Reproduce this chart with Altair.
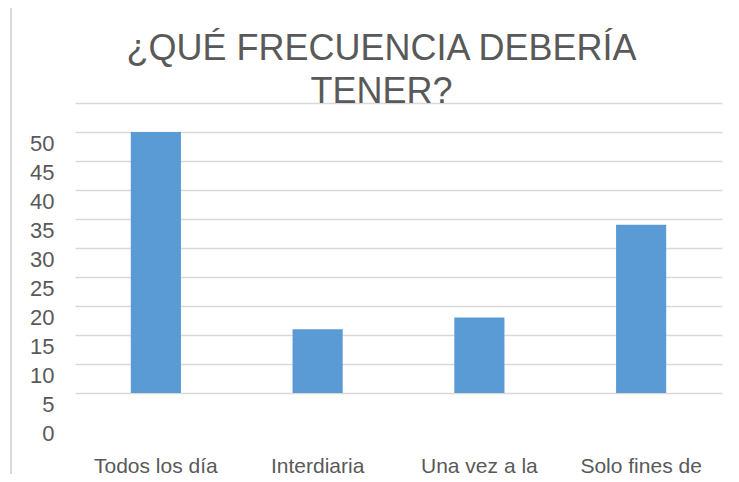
import altair as alt
import pandas as pd

categories = ["Todos los día", "Interdiaria", "Una vez a la", "Solo fines de"]
values = [45, 11, 13, 29]
y_ticks = [0, 5, 10, 15, 20, 25, 30, 35, 40, 45, 50]

df = pd.DataFrame({"cat": categories, "val": values})

TEXT = "#595959"
GRID = "#D9D9D9"
FONT = "Liberation Sans"

bars = alt.Chart(df).mark_bar(color="#5B9BD5").encode(
    x=alt.X(
        "cat:N",
        sort=categories,
        scale=alt.Scale(paddingInner=0.69, paddingOuter=0.345),
        axis=alt.Axis(
            title=None,
            labelAngle=0,
            labelFontSize=21,
            labelFont=FONT,
            labelColor=TEXT,
            labelBaseline="alphabetic",
            labelPadding=79,
            labelLimit=0,
            ticks=False,
            tickSize=0,
            domain=False,
            grid=False,
        ),
    ),
    y=alt.Y(
        "val:Q",
        scale=alt.Scale(domain=[0, 50], nice=False),
        axis=alt.Axis(
            title=None,
            values=y_ticks,
            labelFontSize=22,
            labelFont=FONT,
            labelColor=TEXT,
            labelOffset=40,
            labelPadding=21,
            labelOverlap=False,
            labelFlush=False,
            ticks=False,
            tickSize=0,
            domain=False,
            grid=True,
            gridColor=GRID,
            gridWidth=1.5,
        ),
    ),
)

border = alt.Chart(df).mark_rule(color=GRID, strokeWidth=1.5).encode(
    x=alt.value(-64), y=alt.value(-95), y2=alt.value(371)
)

chart = (
    alt.layer(border, bars)
    .properties(
        width=647,
        height=290,
        autosize="none",
        padding={"left": 67, "top": 95, "right": 9, "bottom": 81},
        view=alt.ViewBackground(stroke="transparent", strokeOpacity=0, strokeWidth=0),
        title=alt.TitleParams(
            text=["¿QUÉ FRECUENCIA DEBERÍA", "TENER?"],
            fontSize=36,
            font=FONT,
            fontWeight="normal",
            color=TEXT,
            lineHeight=43,
            anchor="middle",
            frame="group",
            dx=-17,
            offset=-104,
        ),
    )
    .configure(background="white")
)

chart.save("out.html", embed_options={"renderer": "svg", "actions": False})
